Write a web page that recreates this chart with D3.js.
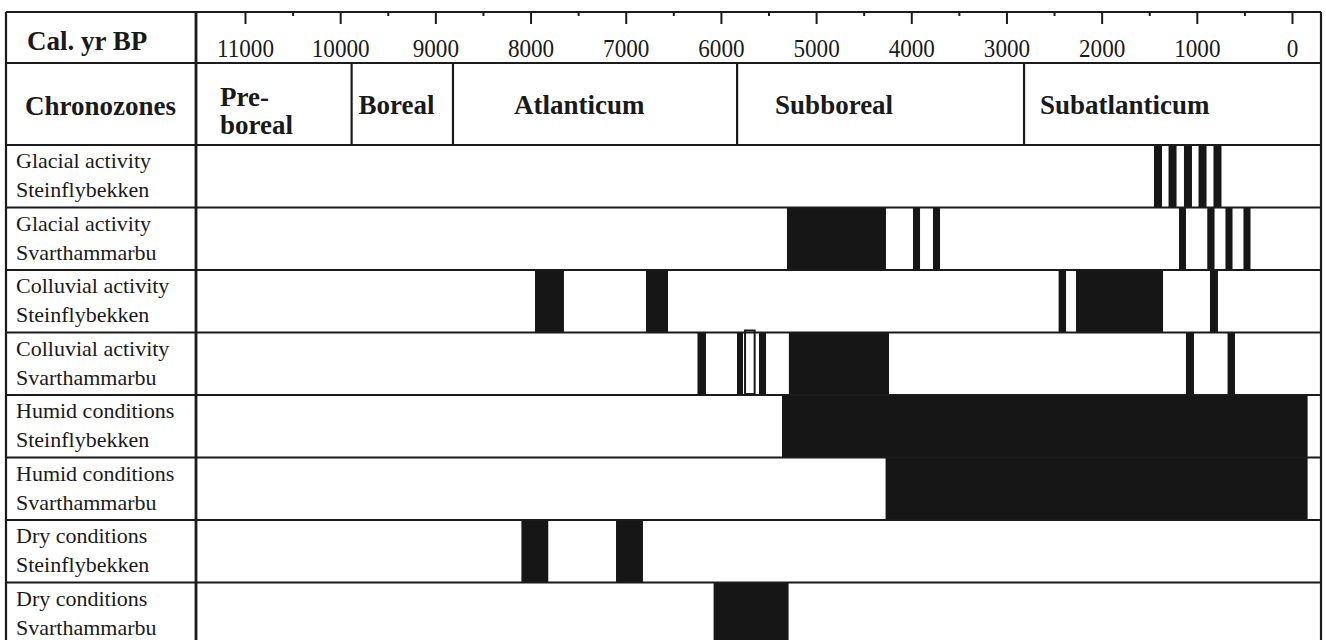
<!DOCTYPE html>
<html>
<head>
<meta charset="utf-8">
<script src="https://cdn.jsdelivr.net/npm/d3@7"></script>
<style>
  html, body { margin: 0; padding: 0; background: #fff; }
  svg { display: block; }
  text { font-family: "Liberation Serif", "Times New Roman", serif; fill: #1a1a1a; }
</style>
</head>
<body>
<svg id="chart" width="1326" height="640"></svg>
<script>
// ---------------- DATA ----------------
const tickYears = [11000, 10000, 9000, 8000, 7000, 6000, 5000, 4000, 3000, 2000, 1000, 0];
const minorTickYears = [10500, 9500, 8500, 7500, 6500, 5500, 4500, 3500, 2500, 1500, 500];

const zoneNames = [["Pre-", "boreal"], ["Boreal"], ["Atlanticum"], ["Subboreal"], ["Subatlanticum"]];
const zoneBreaks = [9880, 8815, 5830, 2815];   // cal. yr BP boundaries between chronozones

const rowLabels = [
  ["Glacial activity", "Steinflybekken"],
  ["Glacial activity", "Svarthammarbu"],
  ["Colluvial activity", "Steinflybekken"],
  ["Colluvial activity", "Svarthammarbu"],
  ["Humid conditions", "Steinflybekken"],
  ["Humid conditions", "Svarthammarbu"],
  ["Dry conditions", "Steinflybekken"],
  ["Dry conditions", "Svarthammarbu"]
];

// periods [start, end] in cal. yr BP
const glacialSteinflybekken = [[1450, 1366], [1297, 1213], [1135, 1051], [982, 898], [825, 741]];
const glacialSvarthammarbu = [[5306, 4266], [3982, 3908], [3772, 3698], [1187, 1114], [890, 814], [699, 625], [510, 436]];
const colluvialSteinflybekken = [[7953, 7649], [6787, 6556], [2452, 2374], [2269, 1355], [862, 778]];
const colluvialSvarthammarbu = [[6246, 6157], [5831, 5768], [5600, 5526], [5286, 4234], [1114, 1030], [677, 599]];
const colluvialSvarthammarbuOpen = [[5757, 5635]];   // outlined (open) bar
const humidSteinflybekken = [[5358, -164]];
const humidSvarthammarbu = [[4270, -164]];
const drySteinflybekken = [[8096, 7814], [7102, 6819]];
const drySvarthammarbu = [[6077, 5289]];

const rowPeriods = [glacialSteinflybekken, glacialSvarthammarbu, colluvialSteinflybekken, colluvialSvarthammarbu,
                    humidSteinflybekken, humidSvarthammarbu, drySteinflybekken, drySvarthammarbu];
const rowOpenPeriods = [[], [], [], colluvialSvarthammarbuOpen, [], [], [], []];

// ---------------- LAYOUT ----------------
const tableLeft = 6, labelRight = 196, tableRight = 1321;
const tableTop = 12, headerBottom = 63, zoneBottom = 145, rowH = 62.5;
const zoneLabelDx = [24, 7, 61, 38, 16];
const ink = "#1b1b1b";

const svg = d3.select("#chart");
const x = d3.scaleLinear().domain([11000, 0]).range([245, 1292]);

// ---------- bars ----------
const rowsG = svg.append("g");
rowPeriods.forEach((periods, i) => {
  const y0 = zoneBottom + i * rowH;
  rowsG.selectAll(null).data(periods).join("rect")
    .attr("x", d => x(d[0]))
    .attr("width", d => x(d[1]) - x(d[0]))
    .attr("y", y0)
    .attr("height", rowH)
    .attr("fill", "#161616");
  rowsG.selectAll(null).data(rowOpenPeriods[i]).join("rect")
    .attr("x", d => x(d[0]) + 1)
    .attr("width", d => x(d[1]) - x(d[0]) - 2)
    .attr("y", y0 - 2)
    .attr("height", rowH + 1)
    .attr("fill", "#fff")
    .attr("stroke", ink)
    .attr("stroke-width", 2);
});

// ---------- grid lines ----------
const lines = svg.append("g").attr("stroke", ink).attr("stroke-width", 2.2);
const hYs = [tableTop, headerBottom, zoneBottom].concat(d3.range(1, rowLabels.length).map(i => zoneBottom + i * rowH));
lines.selectAll(null).data(hYs).join("line")
  .attr("x1", tableLeft).attr("x2", tableRight)
  .attr("y1", d => d).attr("y2", d => d);
lines.append("line").attr("x1", tableLeft).attr("x2", tableLeft).attr("y1", tableTop).attr("y2", 640);
lines.append("line").attr("x1", labelRight).attr("x2", labelRight).attr("y1", tableTop).attr("y2", 640).attr("stroke-width", 2.8);
lines.append("line").attr("x1", tableRight).attr("x2", tableRight).attr("y1", tableTop).attr("y2", 640);
lines.selectAll(null).data(zoneBreaks).join("line")
  .attr("x1", d => x(d)).attr("x2", d => x(d))
  .attr("y1", headerBottom).attr("y2", zoneBottom);

// ---------- top axis ----------
const axisG = svg.append("g").attr("transform", `translate(0,${tableTop})`)
  .call(d3.axisBottom(x).tickValues(tickYears).tickSize(12).tickFormat(d3.format("d")));
axisG.select(".domain").remove();
axisG.selectAll(".tick line").attr("stroke", ink).attr("stroke-width", 2);
axisG.selectAll(".tick text")
  .attr("y", 45).attr("dy", 0)
  .attr("transform", "scale(0.89,1)")
  .style("font-family", "'Liberation Serif', serif")
  .style("font-size", "26px").attr("fill", "#1b1b1b");
svg.append("g").attr("transform", `translate(0,${tableTop})`)
  .call(d3.axisBottom(x).tickValues(minorTickYears).tickSize(4).tickFormat(""))
  .call(g => g.select(".domain").remove())
  .selectAll(".tick line").attr("stroke", ink).attr("stroke-width", 2);

// ---------- header text ----------
svg.append("text").attr("x", 27).attr("y", 50).attr("font-weight", "bold").attr("font-size", 27).text("Cal. yr BP");
svg.append("text").attr("x", 25).attr("y", 115).attr("font-weight", "bold").attr("font-size", 27).text("Chronozones");

const zoneStarts = [labelRight].concat(zoneBreaks.map(d => x(d)));
zoneNames.forEach((lines2, i) => {
  const t = svg.append("text").attr("font-weight", "bold").attr("font-size", 27)
    .attr("x", zoneStarts[i] + zoneLabelDx[i]);
  if (lines2.length === 1) {
    t.attr("y", 114).text(lines2[0]);
  } else {
    t.append("tspan").attr("x", zoneStarts[i] + zoneLabelDx[i]).attr("y", 106).text(lines2[0]);
    t.append("tspan").attr("x", zoneStarts[i] + zoneLabelDx[i]).attr("y", 134).text(lines2[1]);
  }
});

// ---------- row labels ----------
rowLabels.forEach((lab, i) => {
  const y0 = zoneBottom + i * rowH;
  const t = svg.append("text").attr("font-size", 22);
  t.append("tspan").attr("x", 16).attr("y", y0 + 23).text(lab[0]);
  t.append("tspan").attr("x", 16).attr("y", y0 + 52).text(lab[1]);
});
</script>
</body>
</html>
